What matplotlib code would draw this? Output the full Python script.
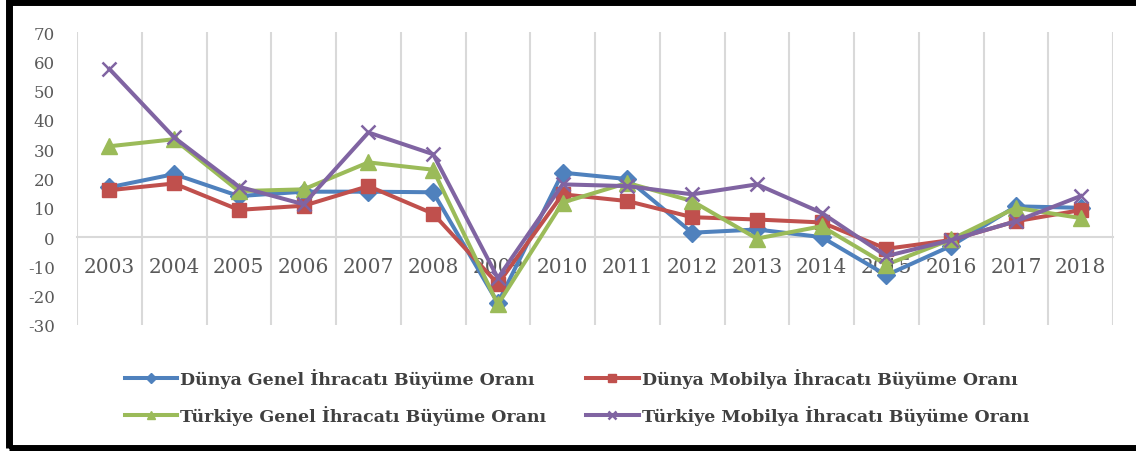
import numpy as np
import matplotlib
matplotlib.use("Agg")
import matplotlib.pyplot as plt
from matplotlib.patches import Rectangle

plt.rcParams["axes.unicode_minus"] = False

# Yillar ve buyume oranlari (%)
years = ["2003", "2004", "2005", "2006", "2007", "2008", "2009", "2010",
         "2011", "2012", "2013", "2014", "2015", "2016", "2017", "2018"]
dunya_genel = [17, 21.5, 14, 15.5, 15.5, 15.3, -22.5, 22, 19.8, 1.5, 2.6, 0, -13, -3, 10.5, 10]
dunya_mobilya = [16, 18.3, 9.3, 10.7, 17.4, 8, -16, 14.6, 12.3, 6.8, 6, 5, -4, -1, 5.4, 9.2]
turkiye_genel = [31, 33.4, 15.7, 16.3, 25.5, 23, -23, 11.8, 18.5, 12.3, -0.5, 3.7, -9.4, -0.8, 10, 6.5]
turkiye_mobilya = [57.4, 34, 17.2, 11.2, 35.7, 28.3, -14, 18, 17.4, 14.6, 18, 8.3, -6.5, -1, 5.4, 14]

labels = ["Dünya Genel İhracatı Büyüme Oranı", "Dünya Mobilya İhracatı Büyüme Oranı",
          "Türkiye Genel İhracatı Büyüme Oranı", "Türkiye Mobilya İhracatı Büyüme Oranı"]
colors = ["#4F81BD", "#C0504D", "#9BBB59", "#8064A2"]

fig = plt.figure(figsize=(11.36, 4.52), dpi=100)
ax = fig.add_axes([77 / 1136, 1 - 326 / 452, (1113 - 77) / 1136, (326 - 33) / 452])

x = np.arange(len(years))
l1, = ax.plot(x, dunya_genel, color=colors[0], lw=2.9, marker="D", ms=9, label=labels[0])
l2, = ax.plot(x, dunya_mobilya, color=colors[1], lw=2.9, marker="s", ms=10, label=labels[1])
l3, = ax.plot(x, turkiye_genel, color=colors[2], lw=2.9, marker="^", ms=11.5, label=labels[2])
l4, = ax.plot(x, turkiye_mobilya, color=colors[3], lw=2.9, marker="x", ms=10.5, mew=1.8, label=labels[3])

ax.set_xlim(-0.5, len(years) - 0.5)
ax.set_ylim(-30, 70)
ax.set_yticks(range(-30, 71, 10))
ax.set_xticks(x)
ax.set_xticklabels(years)
ax.set_xticks(np.arange(-0.5, len(years)), minor=True)
ax.grid(True, which="minor", axis="x", color="#D9D9D9", lw=1.5)

for s in ["top", "right", "left"]:
    ax.spines[s].set_visible(False)
ax.spines["bottom"].set_position(("data", 0))
ax.spines["bottom"].set_color("#D9D9D9")
ax.spines["bottom"].set_linewidth(1.5)
ax.spines["bottom"].set_zorder(0.5)

ax.tick_params(axis="x", which="both", length=0, pad=14, labelsize=14.5,
               labelcolor="#595959", labelfontfamily="DejaVu Serif")
ax.tick_params(axis="y", length=0, pad=16, labelsize=12,
               labelcolor="#595959", labelfontfamily="DejaVu Serif")

leg = fig.legend(handles=[l1, l3, l2, l4], ncol=2, loc="center",
                 bbox_to_anchor=(0.508, 0.12), frameon=False,
                 handlelength=3.0, handletextpad=0.2, columnspacing=2.3,
                 labelspacing=1.0, markerscale=0.55,
                 prop={"family": "DejaVu Serif", "weight": "bold", "size": 12.5})
for t in leg.get_texts():
    t.set_color("#404040")

# dis cerceve
fig.add_artist(Rectangle((8.5 / 1136, 3 / 452), 1.05, 1 - 6 / 452,
                         transform=fig.transFigure, fill=False,
                         edgecolor="black", lw=5, clip_on=False))

fig.savefig("out.png", dpi=100)
